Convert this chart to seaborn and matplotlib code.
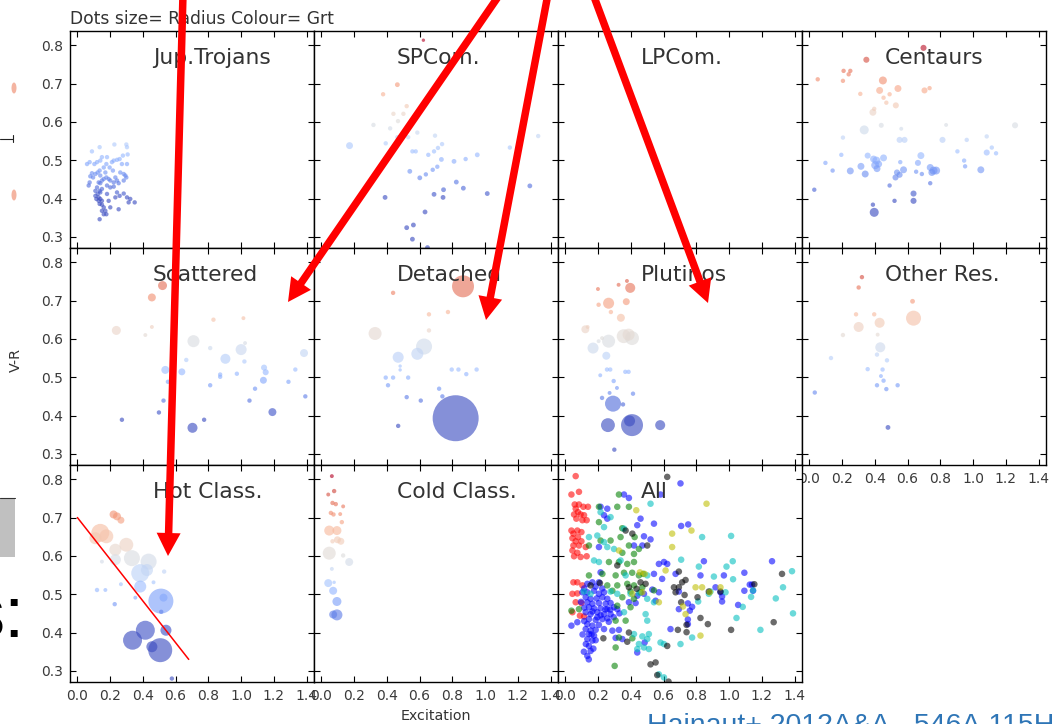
import numpy as np
import pandas as pd
import matplotlib
matplotlib.use("Agg")
import matplotlib.pyplot as plt
import seaborn as sns
from matplotlib.patches import FancyArrow, Rectangle, Ellipse
from matplotlib.lines import Line2D
from matplotlib.ticker import FormatStrFormatter

# ---------------- data: (excitation, V-R, radius) ----------------
jup_trojans = [
    (0.059,0.490,10),(0.075,0.495,10),(0.089,0.523,10),(0.136,0.534,10),(0.226,0.541,10),(0.299,0.541,10),(0.303,0.534,10),(0.307,0.515,10),(0.303,0.490,10),(0.278,0.512,10),
    (0.272,0.490,10),(0.258,0.503,10),(0.242,0.501,10),(0.222,0.499,10),(0.211,0.495,10),(0.181,0.508,10),(0.177,0.490,10),(0.161,0.481,10),(0.150,0.508,10),(0.140,0.499,10),
    (0.120,0.495,10),(0.104,0.490,10),(0.089,0.466,10),(0.079,0.458,10),(0.075,0.442,10),(0.069,0.434,10),(0.096,0.455,10),(0.110,0.464,10),(0.124,0.468,10),(0.136,0.473,10),
    (0.140,0.460,10),(0.150,0.447,10),(0.161,0.451,10),(0.177,0.455,10),(0.191,0.451,10),(0.201,0.447,10),(0.222,0.442,10),(0.242,0.447,10),(0.262,0.468,10),(0.283,0.464,10),
    (0.293,0.460,10),(0.299,0.455,10),(0.283,0.447,10),(0.252,0.440,10),(0.232,0.455,10),(0.217,0.473,10),(0.197,0.481,10),(0.171,0.468,10),(0.130,0.442,10),(0.120,0.429,10),
    (0.110,0.420,10),(0.136,0.420,10),(0.150,0.425,10),(0.140,0.416,10),(0.124,0.412,10),(0.130,0.403,10),(0.140,0.399,10),(0.150,0.394,10),(0.136,0.386,10),(0.150,0.384,10),
    (0.161,0.377,10),(0.171,0.368,10),(0.150,0.368,10),(0.161,0.359,10),(0.136,0.346,10),(0.177,0.359,10),(0.130,0.394,10),(0.116,0.399,10),(0.110,0.407,10),(0.242,0.416,10),
    (0.258,0.407,10),(0.283,0.413,10),(0.303,0.403,10),(0.323,0.399,10),(0.350,0.390,10),(0.313,0.390,10),(0.252,0.372,10),(0.181,0.412,10),(0.191,0.394,10),(0.201,0.377,10),
    (0.232,0.403,10),(0.201,0.429,10),(0.181,0.434,10),(0.222,0.431,10),(0.140,0.440,10),
]
sp_comets = [
    (0.623,0.813,6),(0.464,0.697,12),(0.377,0.672,10),(0.521,0.641,10),(0.440,0.621,10),(0.501,0.621,10),(0.468,0.602,10),(0.318,0.592,10),(0.420,0.583,10),(0.586,0.572,10),
    (0.464,0.560,10),(0.694,0.564,10),(0.530,0.560,10),(0.172,0.538,25),(0.393,0.544,10),(0.737,0.542,10),(0.712,0.532,10),(0.688,0.523,10),(0.556,0.523,10),(0.576,0.523,10),
    (0.653,0.514,10),(1.324,0.563,10),(1.151,0.533,10),(0.952,0.514,12),(0.881,0.503,10),(0.810,0.497,12),(0.733,0.502,12),(0.708,0.483,10),(0.680,0.475,10),(0.638,0.463,10),
    (0.601,0.454,12),(0.540,0.471,12),(0.824,0.443,12),(0.867,0.427,12),(1.273,0.433,12),(1.013,0.413,12),(0.746,0.423,12),(0.688,0.411,12),(0.743,0.403,12),(0.389,0.403,12),
    (0.633,0.365,12),(0.521,0.324,12),(0.562,0.331,12),(0.556,0.294,12),(0.648,0.272,12),
]
lp_comets = []
centaurs = [
    (0.697,0.793,19),(0.348,0.762,19),(0.209,0.733,10),(0.250,0.733,10),(0.240,0.724,10),(0.051,0.711,10),(0.205,0.707,10),(0.449,0.708,33),(0.429,0.682,25),(0.541,0.687,25),
    (0.490,0.672,10),(0.311,0.673,10),(0.453,0.663,10),(0.470,0.650,10),(0.703,0.682,19),(0.734,0.688,10),(0.528,0.643,19),(0.388,0.625,25),(0.396,0.634,10),(0.335,0.579,42),
    (0.439,0.591,13),(0.561,0.582,8),(0.835,0.592,8),(1.256,0.591,19),(0.205,0.559,10),(0.551,0.553,19),(0.581,0.553,19),(0.813,0.553,19),(0.961,0.553,10),(1.083,0.562,10),
    (1.114,0.533,10),(1.140,0.518,10),(1.083,0.520,19),(0.904,0.523,10),(0.195,0.514,10),(0.356,0.512,19),(0.392,0.503,25),(0.409,0.499,33),(0.423,0.490,25),(0.453,0.506,25),
    (0.402,0.487,33),(0.413,0.478,25),(0.681,0.512,25),(0.663,0.493,19),(0.555,0.495,10),(0.575,0.475,25),(0.535,0.468,19),(0.551,0.462,19),(0.526,0.455,19),(0.652,0.470,10),
    (0.687,0.464,10),(0.738,0.481,25),(0.758,0.473,33),(0.774,0.473,33),(0.748,0.468,25),(0.945,0.499,10),(0.951,0.484,10),(1.047,0.475,25),(0.098,0.493,10),(0.142,0.473,10),
    (0.250,0.472,25),(0.315,0.484,25),(0.341,0.464,25),(0.030,0.423,10),(0.490,0.434,10),(0.738,0.440,10),(0.520,0.394,10),(0.636,0.413,19),(0.636,0.394,19),(0.388,0.384,10),
    (0.396,0.364,42),
]
scattered = [
    (0.520,0.739,42),(0.455,0.708,33),(0.238,0.622,42),(0.455,0.631,8),(0.415,0.610,8),(0.709,0.594,75),(0.831,0.650,10),(1.014,0.654,8),(1.024,0.589,8),(0.811,0.576,10),
    (0.665,0.545,10),(0.904,0.548,52),(1.000,0.572,63),(1.020,0.541,10),(1.384,0.563,33),(0.537,0.519,33),(0.638,0.514,25),(0.553,0.488,10),(0.811,0.479,10),(0.872,0.507,10),
    (0.872,0.501,10),(0.974,0.509,10),(1.140,0.525,19),(1.150,0.513,19),(1.136,0.492,25),(1.085,0.470,10),(1.051,0.439,10),(1.289,0.488,10),(1.331,0.520,10),(1.392,0.450,10),
    (0.526,0.439,10),(0.498,0.408,10),(0.272,0.389,10),(0.774,0.389,10),(0.703,0.368,52),(1.191,0.409,33),
]
detached = [
    (0.865,0.737,250),(0.438,0.720,10),(0.657,0.664,10),(0.773,0.670,10),(0.328,0.614,88),(0.657,0.622,10),(0.627,0.580,133),(0.586,0.561,75),(0.469,0.552,63),(0.481,0.529,6),
    (0.481,0.519,6),(0.393,0.499,10),(0.438,0.499,10),(0.530,0.499,10),(0.407,0.479,10),(0.796,0.520,10),(0.837,0.520,10),(0.885,0.508,10),(0.948,0.520,10),(0.719,0.470,10),
    (0.739,0.450,10),(0.521,0.448,10),(0.607,0.439,10),(0.469,0.373,10),(0.820,0.393,1096),
]
plutinos = [
    (0.199,0.730,8),(0.325,0.741,8),(0.376,0.751,8),(0.396,0.733,52),(0.203,0.689,10),(0.264,0.693,63),(0.372,0.697,25),(0.278,0.670,10),(0.339,0.655,33),(0.122,0.625,33),
    (0.136,0.631,8),(0.356,0.607,100),(0.407,0.602,100),(0.386,0.611,75),(0.264,0.594,88),(0.169,0.576,63),(0.203,0.594,8),(0.224,0.602,8),(0.250,0.556,33),(0.254,0.520,10),
    (0.274,0.520,10),(0.366,0.514,10),(0.386,0.514,10),(0.213,0.505,8),(0.295,0.490,10),(0.315,0.472,8),(0.224,0.446,10),(0.270,0.459,8),(0.413,0.457,10),(0.291,0.431,133),
    (0.352,0.429,10),(0.260,0.375,100),(0.407,0.375,250),(0.392,0.386,63),(0.579,0.375,52),(0.299,0.311,10),
]
other_res = [
    (0.321,0.761,10),(0.301,0.734,10),(0.630,0.698,12),(0.285,0.664,10),(0.396,0.664,10),(0.429,0.642,52),(0.636,0.654,117),(0.301,0.631,52),(0.417,0.611,8),(0.205,0.610,10),
    (0.433,0.578,52),(0.413,0.559,10),(0.474,0.544,10),(0.132,0.550,10),(0.356,0.521,10),(0.447,0.520,10),(0.437,0.503,8),(0.453,0.491,10),(0.413,0.479,10),(0.470,0.469,10),
    (0.539,0.479,10),(0.033,0.460,10),(0.480,0.369,12),
]
hot_classical = [
    (0.221,0.708,33),(0.242,0.703,33),(0.266,0.693,25),(0.140,0.660,168),(0.177,0.651,100),(0.110,0.646,75),(0.299,0.629,100),(0.232,0.616,75),(0.232,0.590,63),(0.150,0.585,8),
    (0.333,0.594,133),(0.435,0.585,133),(0.384,0.555,168),(0.530,0.559,10),(0.425,0.563,75),(0.384,0.520,75),(0.266,0.526,8),(0.120,0.511,10),(0.171,0.511,8),(0.465,0.531,8),
    (0.228,0.474,10),(0.354,0.491,8),(0.510,0.482,324),(0.526,0.491,33),(0.512,0.454,10),(0.415,0.406,187),(0.337,0.380,187),(0.541,0.406,63),(0.455,0.363,63),(0.506,0.354,298),
    (0.577,0.280,10),
]
cold_classical = [
    (0.064,0.808,8),(0.042,0.760,8),(0.078,0.769,10),(0.068,0.738,10),(0.088,0.735,10),(0.133,0.729,8),(0.058,0.712,10),(0.074,0.708,10),(0.115,0.709,8),(0.125,0.688,10),
    (0.048,0.666,52),(0.095,0.666,42),(0.098,0.642,25),(0.119,0.638,25),(0.068,0.638,10),(0.048,0.607,88),(0.133,0.601,10),(0.170,0.584,33),(0.064,0.566,8),(0.042,0.529,33),
    (0.078,0.531,6),(0.072,0.509,33),(0.095,0.481,42),(0.095,0.446,63),(0.072,0.447,33),
]
# dividing line drawn on the Hot Class. panel
hot_line_exc = [0.0, 0.68]
hot_line_vr = [0.70, 0.33]

# "All" panel, grouped by plotting colour: (excitation, V-R)
all_red = [
    (0.063,0.808),(0.037,0.760),(0.083,0.767),(0.057,0.734),(0.083,0.734),(0.110,0.728),(0.138,0.728),(0.063,0.723),(0.077,0.714),(0.053,0.708),
    (0.093,0.708),(0.114,0.706),(0.067,0.697),(0.104,0.693),(0.130,0.693),(0.037,0.666),(0.073,0.666),(0.049,0.658),(0.098,0.662),(0.043,0.646),
    (0.077,0.649),(0.063,0.638),(0.098,0.638),(0.049,0.627),(0.083,0.627),(0.124,0.623),(0.043,0.614),(0.073,0.608),(0.053,0.599),(0.093,0.597),
    (0.130,0.599),(0.049,0.531),(0.073,0.531),(0.043,0.501),(0.073,0.502),(0.063,0.479),(0.098,0.477),(0.043,0.453),(0.089,0.444),(0.114,0.442),
    (0.104,0.523),
]
all_blue = [
    (0.134,0.527),(0.165,0.531),(0.205,0.531),(0.104,0.505),(0.134,0.505),(0.175,0.509),(0.205,0.501),(0.236,0.505),(0.124,0.492),(0.154,0.488),
    (0.191,0.489),(0.226,0.492),(0.256,0.488),(0.134,0.479),(0.165,0.475),(0.205,0.477),(0.246,0.475),(0.276,0.477),(0.144,0.466),(0.175,0.463),
    (0.215,0.463),(0.256,0.461),(0.297,0.466),(0.317,0.461),(0.124,0.453),(0.154,0.448),(0.195,0.453),(0.236,0.448),(0.276,0.448),(0.144,0.435),
    (0.185,0.433),(0.226,0.435),(0.256,0.437),(0.134,0.422),(0.165,0.418),(0.205,0.420),(0.124,0.409),(0.154,0.405),(0.185,0.407),(0.144,0.396),
    (0.175,0.392),(0.134,0.383),(0.165,0.379),(0.144,0.365),(0.171,0.358),(0.154,0.352),(0.134,0.339),(0.037,0.418),(0.073,0.427),(0.215,0.728),
    (0.256,0.723),(0.256,0.697),(0.236,0.706),(0.358,0.760),(0.388,0.751),(0.439,0.680),(0.459,0.697),(0.541,0.684),(0.520,0.643),(0.480,0.651),
    (0.470,0.627),(0.419,0.627),(0.571,0.579),(0.622,0.579),(0.602,0.584),(0.541,0.553),(0.591,0.540),(0.673,0.553),(0.439,0.496),(0.480,0.501),
    (0.531,0.512),(0.388,0.479),(0.429,0.477),(0.236,0.409),(0.287,0.405),(0.327,0.407),(0.307,0.386),(0.348,0.383),(0.439,0.348),(0.484,0.374),
    (0.571,0.505),(0.551,0.483),(0.642,0.409),(0.581,0.760),(0.215,0.557),(0.205,0.623),
    (0.115,0.515),(0.185,0.520),(0.225,0.515),(0.095,0.480),(0.115,0.465),(0.195,0.440),(0.165,0.455),(0.215,0.445),(0.245,0.460),(0.275,0.460),
    (0.115,0.430),(0.105,0.395),(0.125,0.370),(0.160,0.395),(0.185,0.380),(0.113,0.350),(0.143,0.330),(0.265,0.428),(0.295,0.440),(0.330,0.450),
    (0.703,0.789),(0.707,0.678),(0.750,0.682),(0.846,0.586),(0.825,0.549),(0.968,0.549),(1.093,0.556),(1.262,0.586),(0.693,0.507),(0.693,0.461),
    (0.748,0.476),(0.774,0.467),(0.760,0.457),(0.917,0.518),(0.947,0.505),(0.957,0.494),(0.957,0.481),(1.055,0.472),(0.748,0.434),(0.748,0.422),
    (1.126,0.525),(1.140,0.525),(1.093,0.509),(1.146,0.509),
]
all_green = [
    (0.205,0.728),(0.327,0.760),(0.317,0.728),(0.388,0.728),(0.205,0.688),(0.347,0.672),(0.144,0.627),(0.215,0.640),(0.276,0.640),(0.337,0.649),
    (0.388,0.627),(0.423,0.649),(0.348,0.608),(0.419,0.605),(0.449,0.618),(0.266,0.584),(0.327,0.584),(0.378,0.579),(0.419,0.584),(0.144,0.549),
    (0.226,0.553),(0.307,0.549),(0.358,0.556),(0.408,0.556),(0.449,0.549),(0.476,0.553),(0.256,0.523),(0.317,0.523),(0.378,0.527),(0.419,0.523),
    (0.470,0.518),(0.287,0.509),(0.398,0.507),(0.459,0.505),(0.348,0.492),(0.419,0.488),(0.317,0.470),(0.398,0.466),(0.037,0.457),(0.083,0.461),
    (0.307,0.431),(0.368,0.431),(0.327,0.387),(0.409,0.385),(0.307,0.361),(0.301,0.313),(0.541,0.510),
]
all_cyan = [
    (0.215,0.714),(0.276,0.701),(0.236,0.675),(0.358,0.671),(0.144,0.649),(0.195,0.653),(0.236,0.636),(0.256,0.623),(0.297,0.618),(0.520,0.736),
    (0.175,0.588),(0.205,0.584),(0.337,0.588),(0.368,0.549),(0.500,0.549),(0.114,0.507),(0.154,0.501),(0.276,0.507),(0.317,0.501),(0.398,0.501),
    (0.449,0.503),(0.500,0.488),(0.541,0.479),(0.358,0.453),(0.490,0.448),(0.500,0.431),(0.419,0.396),(0.470,0.390),(0.500,0.383),(0.449,0.370),
    (0.480,0.361),(0.510,0.357),(0.439,0.357),(0.510,0.396),(0.581,0.374),(0.602,0.370),(0.571,0.291),(0.602,0.283),
    (0.835,0.649),(1.012,0.652),(0.707,0.590),(0.815,0.572),(0.984,0.572),(1.022,0.586),(0.907,0.546),(1.024,0.539),(0.811,0.481),(0.886,0.507),
    (0.978,0.505),(0.876,0.501),(1.146,0.510),(1.134,0.493),(1.083,0.467),(1.045,0.438),(1.285,0.489),(1.329,0.518),(1.384,0.560),(1.390,0.450),
    (1.191,0.407),(0.774,0.387),(0.703,0.370),
]
all_black = [
    (0.622,0.806),(0.368,0.666),(0.409,0.658),(0.500,0.627),(0.154,0.523),(0.211,0.529),(0.388,0.518),(0.435,0.514),(0.459,0.531),(0.490,0.527),
    (0.663,0.518),(0.673,0.505),(0.388,0.400),(0.378,0.376),(0.232,0.385),(0.520,0.317),(0.551,0.322),(0.561,0.289),(0.622,0.365),(0.630,0.272),
    (0.317,0.575),
    (0.693,0.559),(0.713,0.531),(0.734,0.537),(0.693,0.518),(0.728,0.498),(0.707,0.479),(0.807,0.492),(0.876,0.507),(0.947,0.507),(1.154,0.526),
    (1.323,0.553),(0.825,0.438),(0.870,0.422),(0.740,0.420),(0.740,0.401),(0.687,0.407),(1.012,0.407),(1.272,0.427),
]
all_yellow = [
    (0.433,0.719),(0.327,0.614),(0.455,0.557),(0.484,0.553),(0.409,0.501),(0.470,0.505),(0.652,0.658),(0.652,0.623),(0.612,0.562),(0.571,0.479),
    (0.862,0.736),(0.770,0.666),(0.795,0.518),(0.835,0.518),(0.882,0.505),(0.947,0.518),(0.718,0.468),(0.734,0.448),(0.825,0.392),
]

panel_titles = ["Jup.Trojans", "SPCom.", "LPCom.", "Centaurs",
                "Scattered", "Detached", "Plutinos", "Other Res.",
                "Hot Class.", "Cold Class.", "All"]
x_ticks = [0.0, 0.2, 0.4, 0.6, 0.8, 1.0, 1.2, 1.4]
y_ticks = [0.3, 0.4, 0.5, 0.6, 0.7, 0.8]
header_text = "Dots size= Radius Colour= Grt"
citation_text = "Hainaut+ 2012A&A...546A.115H"

# ---------------- style ----------------
sns.set_style("white")
plt.rcParams.update({
    "font.family": ["DejaVu Sans"],
    "axes.edgecolor": "black",
    "axes.linewidth": 1.0,
    "xtick.direction": "in", "ytick.direction": "in",
    "xtick.top": True, "ytick.right": True,
    "xtick.bottom": True, "ytick.left": True,
    "xtick.major.size": 4.5, "ytick.major.size": 4.5,
    "xtick.major.width": 0.8, "ytick.major.width": 0.8,
    "xtick.major.pad": 5, "ytick.major.pad": 5,
    "xtick.labelsize": 10, "ytick.labelsize": 10,
    "xtick.color": "black", "ytick.color": "black",
    "xtick.labelcolor": "#3a3a3a", "ytick.labelcolor": "#3a3a3a",
})

W, H = 1052, 724
fig = plt.figure(figsize=(W / 100, H / 100), dpi=100)
fig.patch.set_facecolor("white")
axes = fig.subplots(3, 4, gridspec_kw=dict(left=70 / W, right=1046 / W,
                                           top=1 - 31 / H, bottom=1 - 682 / H,
                                           wspace=0, hspace=0))
axes[2, 3].remove()

panel_data = [jup_trojans, sp_comets, lp_comets, centaurs,
              scattered, detached, plutinos, other_res,
              hot_classical, cold_classical]

flat = [axes[r, c] for r in range(3) for c in range(4)][:11]

for i, ax in enumerate(flat):
    r, c = divmod(i, 4)
    if i < 10:
        rows = panel_data[i]
        if rows:
            df = pd.DataFrame(rows, columns=["exc", "vr", "radius"])
            sns.scatterplot(data=df, x="exc", y="vr", hue="vr", palette="coolwarm",
                            hue_norm=(0.40, 0.80), size="radius", sizes=(0, 1100),
                            size_norm=(0, 1100), alpha=0.62, linewidth=0,
                            edgecolor="none", legend=False, ax=ax)
    else:
        groups = [("r", all_red), ("b", all_blue), ("g", all_green),
                  ("c", all_cyan), ("k", all_black), ("y", all_yellow)]
        frames = []
        for key, pts in groups:
            d = pd.DataFrame(pts, columns=["exc", "vr"])
            d["grp"] = key
            frames.append(d)
        dfa = pd.concat(frames, ignore_index=True)
        pal = {"r": (1, 0, 0), "g": (0, 0.5, 0), "b": (0, 0, 1),
               "c": (0, 0.75, 0.75), "k": (0, 0, 0), "y": (0.75, 0.75, 0)}
        sns.scatterplot(data=dfa, x="exc", y="vr", hue="grp", palette=pal, s=22,
                        alpha=0.58, linewidth=0, edgecolor="none", legend=False, ax=ax)

    ax.set_xlim(-0.045, 1.445)
    ax.set_ylim(0.271, 0.837)
    ax.set_xticks(x_ticks)
    ax.set_yticks(y_ticks)
    ax.xaxis.set_major_formatter(FormatStrFormatter("%.1f"))
    ax.yaxis.set_major_formatter(FormatStrFormatter("%.1f"))
    ax.set_xlabel("")
    ax.set_ylabel("")
    ax.tick_params(labelleft=(c == 0), labelbottom=(r == 2 or (r == 1 and c == 3)))
    for sp in ax.spines.values():
        sp.set_visible(True)
        sp.set_color("black")
        sp.set_linewidth(1.0)
    ax.text(0.34, 0.848, panel_titles[i], transform=ax.transAxes, fontsize=15.7,
            color="#333333", ha="left", va="baseline", zorder=5)

# line on Hot Class.
axes[2, 0].plot(hot_line_exc, hot_line_vr, color="red", lw=1.1, zorder=6)

# axis labels
axes[1, 0].set_ylabel("V-R", fontsize=10.3, color="#333333")
axes[1, 0].yaxis.set_label_coords(-0.193, 0.485)
axes[2, 1].set_xlabel("Excitation", fontsize=10.3, color="#333333")
axes[2, 1].xaxis.set_label_coords(0.5, -0.125)

fig.text(70 / W, 1 - 24 / H, header_text, fontsize=12.3, color="#333333",
         ha="left", va="baseline")

# ---------------- slide overlay (pixel positions converted to inches) ----------------
T = fig.dpi_scale_trans
def px(xp, yp):
    return xp / 100.0, (H - yp) / 100.0

arrows = [((183, -6), (168, 556)), ((500, -6), (288, 302)),
          ((548, -6), (486, 320)), ((593, -6), (708, 303))]
for (x0, y0), (x1, y1) in arrows:
    sx, sy = px(x0, y0)
    ex, ey = px(x1, y1)
    fig.add_artist(FancyArrow(sx, sy, ex - sx, ey - sy, width=0.075, head_width=0.24,
                              head_length=0.23, length_includes_head=True,
                              color="red", lw=0, transform=T, zorder=30))

gx, gy = px(0, 557)
fig.add_artist(Rectangle((gx, gy), 0.15, 0.59, transform=T, facecolor="#c0c0c0",
                         edgecolor="none", zorder=25))
fig.add_artist(Line2D([0, 0.15], [px(0, 498)[1]] * 2, transform=T, color="#333333",
                      lw=0.8, zorder=26))
fig.add_artist(Line2D([0, 0.13], [px(0, 139)[1]] * 2, transform=T, color="#222222",
                      lw=0.8, zorder=26))
fig.add_artist(Line2D([0.13, 0.13], [px(0, 135)[1], px(0, 142)[1]], transform=T,
                      color="#222222", lw=0.8, zorder=26))
for yy in (88, 195):
    cx, cy = px(14, yy)
    fig.add_artist(Ellipse((cx, cy), 0.05, 0.11, transform=T, facecolor="#f2a28a",
                           edgecolor="none", alpha=0.8, zorder=25))

fig.text(24 / W, 1 - 638 / H, "s:", fontsize=52, color="black", ha="right",
         va="baseline", family=["Liberation Sans", "DejaVu Sans"], zorder=26)
fig.text(647 / W, 1 - 733 / H, citation_text, fontsize=20.5, color="#2e75b6",
         ha="left", va="baseline", family=["Liberation Sans", "DejaVu Sans"], zorder=26)

fig.savefig("out.png", dpi=100, facecolor="white")
